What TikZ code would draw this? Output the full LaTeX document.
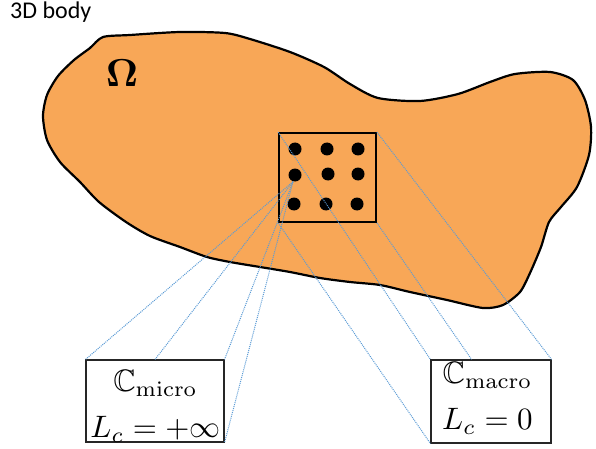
\documentclass[tikz,border=0pt]{standalone}
\usepackage{amssymb}
\usepackage{graphicx}
\usepackage[no-math]{fontspec}
\usetikzlibrary{calc,positioning}
\newfontfamily\bodyfont{Carlito}
\definecolor{bodyorange}{RGB}{248,167,87}
\definecolor{zoomblue}{RGB}{91,155,213}
\newcommand{\bigmath}[1]{\scalebox{3.1}{$#1$}}
\tikzset{
  blob/.style={draw=black, fill=bodyorange, line width=2.2pt, line join=round},
  rve/.style={draw=black, line width=1.8pt, minimum width=97pt, minimum height=89pt, inner sep=0pt},
  grain/.style={circle, fill=black, minimum size=13pt, inner sep=0pt},
  zoomline/.style={zoomblue, line width=1pt, dash pattern=on 1pt off 1pt},
  lawbox/.style={draw=black!85, line width=1.1pt, fill=white, inner sep=0pt},
  lawtext/.style={align=center, inner sep=0pt, anchor=north, font=\fontsize{10}{46}\selectfont}
}
\begin{document}
\begin{tikzpicture}[x=1pt, y=-1pt]
        \useasboundingbox (0,0) rectangle (596,449);
        \node[anchor=base west, inner sep=0pt, font=\bodyfont\fontsize{24}{24}\selectfont] (title) at (10,19) {3D body};
        % outline of the body
        \filldraw[blob] plot[smooth cycle, tension=0.45] coordinates {
            (103,37) (130,35) (180,32) (225,33) (250,39) (290,52) (324,67) (350,84)
            (378,98) (420,101) (458,94) (490,82) (515,74) (550,72) (573,80) (585,100)
            (591,127) (589,155) (577,187) (561,207) (549,222) (541,247) (530,273) (520,292)
            (503,305) (483,308) (447,300) (410,292) (380,285) (350,282) (320,278) (290,272)
            (260,267) (230,262) (207,257) (180,247) (150,236) (126,222) (99,202) (80,182)
            (60,162) (47,140) (43,116) (47,95) (58,76) (74,60) (90,48)};
        \node[inner sep=0pt] (omega) at (122,73) {\scalebox{3.9}{$\mathbf{\Omega}$}};
        \node[rve] (sq) at (327.5,177.5) {};
        \node[grain] (d11) at (295,149) {};
        \node[grain] (d12) at (327,149) {};
        \node[grain] (d13) at (358,149) {};
        \node[grain] (d21) at (295,175) {};
        \node[grain] (d22) at (328,174) {};
        \node[grain] (d23) at (358,174) {};
        \node[grain] (d31) at (294,204) {};
        \node[grain] (d32) at (326,204) {};
        \node[grain] (d33) at (357,204) {};
        \coordinate (fan) at ([xshift=-2pt]d21.south);

        \node[lawbox, minimum width=138pt, minimum height=82pt] (micro) at (155,401) {};
        \node[lawtext] (microlbl) at (155.5,370) {\bigmath{\mathbb{C}_{\mathrm{micro}}}\\\bigmath{L_c=+\infty}};
        \node[lawbox, minimum width=120pt, minimum height=83pt] (macro) at (491,401.5) {};
        \node[lawtext] (macrolbl) at (487.5,362) {\bigmath{\mathbb{C}_{\mathrm{macro}}}\\\bigmath{L_c=0}};

        \draw[zoomline] (sq.north west) -- (macro.north west);
        \draw[zoomline] (sq.north east) -- (macro.north east);
        \draw[zoomline] (sq.south west) -- (macro.south west);
        \draw[zoomline] (sq.south east) -- ($(macro.north west)!0.34!(macro.north east)$);
        \draw[zoomline] (fan) -- (micro.north west);
        \draw[zoomline] (fan) -- (micro.north);
        \draw[zoomline] (fan) -- (micro.north east);
        \draw[zoomline] (fan) -- (micro.south east);
    \end{tikzpicture}
\end{document}
